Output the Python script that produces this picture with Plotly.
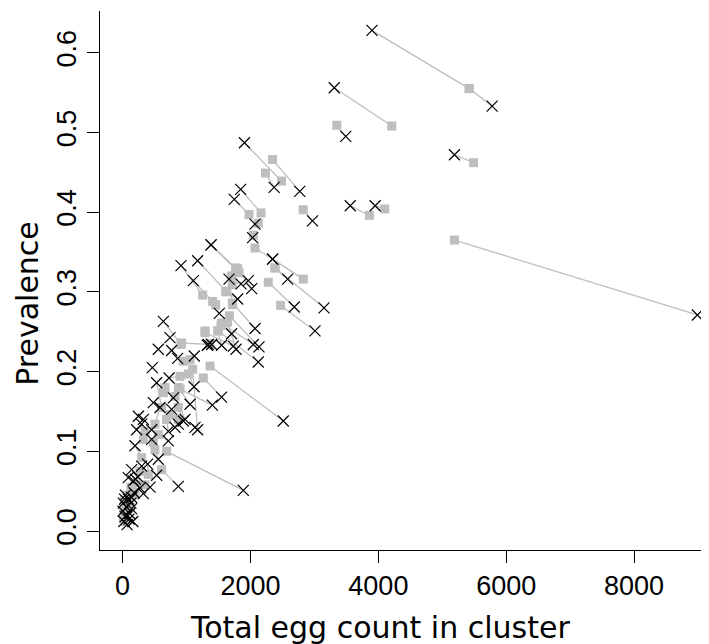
import numpy as np
import plotly.graph_objects as go

nan = np.nan

# Paired observations: grey square (one estimate) and black cross (other estimate) per cluster
sq_x = [5420, 5420, 4210, 3350, 5490, 5190, 3860, 4100, 2345, 2825, 2485, 2235,
        2165, 1977, 2122, 2044, 2071, 2826, 2384, 2384, 2279, 2471,
        1767, 1820, 1627, 1251, 1408, 1455, 1799, 1705, 1716, 1720, 1716, 1669,
        1548, 1497, 1289, 1367, 1289, 1539, 1486, 1611, 1640,
        913, 923, 1054, 949, nan, nan, nan, nan, 610, 898, 1028, 1262, 1367, 1095,
        871, 898, 663, 820, 871, 741, 871, 688, 637, 506, 558, 350, 480, 324,
        nan, nan, nan, 506, 688, 297, 272, 402, 219, 350, 194, 610,
        nan, nan, nan, nan, nan, nan, nan,
        20, 40, 30, 60, 15, 80, 50, 100, 10, 120, 70, 25, 150, nan, nan, nan, nan, 130]
sq_y = [0.555, 0.555, 0.508, 0.509, 0.462, 0.365, 0.396, 0.404, 0.466, 0.403, 0.439, 0.449,
        0.399, 0.397, 0.386, 0.371, 0.355, 0.316, 0.330, 0.330, 0.312, 0.283,
        0.330, 0.324, 0.300, 0.296, 0.288, 0.284, 0.329, 0.320, 0.309, 0.284, 0.286, 0.270,
        0.261, 0.251, 0.249, 0.235, 0.251, 0.258, 0.251, 0.301, 0.262,
        0.234, 0.236, 0.215, 0.213, nan, nan, nan, nan, 0.155, 0.194, 0.197, 0.192, 0.207, 0.203,
        0.180, 0.178, 0.180, 0.169, 0.155, 0.146, 0.140, 0.140, 0.1735, 0.134, 0.121, 0.125, 0.111, 0.115,
        nan, nan, nan, 0.102, 0.100, 0.092, 0.075, 0.071, 0.061, 0.058, 0.046, 0.077,
        nan, nan, nan, nan, nan, nan, nan,
        0.030, 0.025, 0.018, 0.035, 0.022, 0.028, 0.012, 0.040, 0.015, 0.030, 0.045, 0.038, 0.050,
        nan, nan, nan, nan, 0.055]
cr_x = [3900, 5780, 3310, 3490, 5190, 8990, 3560, 3950, 2770, 2970, 1905, 2370,
        1846, 1747, 2071, 2033, 2346, 2346, 3150, 2581, 2685, 3009,
        1383, 1383, 1173, 913, 1106, 1512, 2018, 1852, 1966, 1664, 2071, 2133,
        2044, 2122, 1731, 1392, 1325, 1705, 1548, 1799, 1774,
        637, 1340, 1121, 860, 766, 741, 558, 465, 532, 726, 1117, 1548, 2513, 1173,
        1054, 1403, 793, 976, 949, 766, 820, 715, 480, 585, 715, 454, 454, 297,
        324, 246, 219, 558, 1888, 194, 297, 391, 167, 429, 141, 871,
        532, 89, 272, 324, 141, 871, 1132,
        10, 60, 20, 90, 40, 110, 70, 130, 5, 160, 45, 30, 180, 60, 140, 100, 200, 240]
cr_y = [0.628, 0.533, 0.556, 0.495, 0.472, 0.271, 0.408, 0.408, 0.426, 0.389, 0.487, 0.431,
        0.4285, 0.416, 0.385, 0.368, 0.341, 0.341, 0.280, 0.316, 0.281, 0.251,
        0.359, 0.359, 0.339, 0.333, 0.314, 0.273, 0.304, 0.310, 0.314, 0.316, 0.254, 0.231,
        0.234, 0.212, 0.232, 0.234, 0.233, 0.2475, 0.233, 0.291, 0.228,
        0.263, 0.234, 0.2195, 0.2165, 0.2265, 0.2425, 0.228, 0.205, 0.186, 0.192, 0.181, 0.168, 0.138, 0.127,
        0.159, 0.158, 0.167, 0.140, 0.138, 0.1525, 0.130, 0.125, 0.161, 0.155, 0.113, 0.127, 0.115, 0.134,
        0.140, 0.144, 0.127, 0.090, 0.051, 0.107, 0.0815, 0.084, 0.063, 0.055, 0.042, 0.056,
        0.070, 0.067, 0.054, 0.047, 0.077, 0.134, 0.130,
        0.035, 0.030, 0.012, 0.040, 0.018, 0.022, 0.008, 0.035, 0.025, 0.012, 0.045, 0.040, 0.048,
        0.020, 0.028, 0.015, 0.065, 0.068]

x_ticks = [0, 2000, 4000, 6000, 8000]
y_ticks = [0.0, 0.1, 0.2, 0.3, 0.4, 0.5, 0.6]
y_tick_text = ["0.0", "0.1", "0.2", "0.3", "0.4", "0.5", "0.6"]

GREY = "rgb(190,190,190)"
FONT = "Liberation Sans"
TITLE_FONT = "DejaVu Sans"

# segments
seg_x, seg_y = [], []
for a, b, c, d in zip(sq_x, sq_y, cr_x, cr_y):
    if np.isnan(a):
        continue
    seg_x += [a, c, None]
    seg_y += [b, d, None]

fig = go.Figure()
fig.add_trace(go.Scatter(x=seg_x, y=seg_y, mode="lines",
                         line=dict(color=GREY, width=1.3), hoverinfo="skip", showlegend=False))
fig.add_trace(go.Scatter(x=sq_x, y=sq_y, mode="markers",
                         marker=dict(symbol="square", size=9, color=GREY, line=dict(width=0)),
                         showlegend=False))
fig.add_trace(go.Scatter(x=cr_x, y=cr_y, mode="markers",
                         marker=dict(symbol="x-thin", size=11, color="black",
                                     line=dict(width=1.2, color="black")),
                         showlegend=False))

fig.update_layout(
    width=709, height=644,
    margin=dict(l=92, r=3, t=3, b=102, autoexpand=False),
    paper_bgcolor="white", plot_bgcolor="white",
    font=dict(family=FONT, color="black", size=27),
    xaxis=dict(range=[-354, 9250], tickvals=x_ticks, ticks="outside", ticklen=12,
               tickwidth=1, tickcolor="black", showline=True, linecolor="black", linewidth=1,
               showgrid=False, zeroline=False, automargin=False,
               tickfont=dict(size=27, family=FONT)),
    yaxis=dict(range=[-0.0238, 0.6523], tickvals=y_ticks, ticktext=y_tick_text,
               ticks="outside", ticklen=12, tickwidth=1, tickcolor="black",
               showline=True, linecolor="black", linewidth=1, showgrid=False, zeroline=False,
               automargin=False, tickangle=-90, tickfont=dict(size=27, family=FONT)),
    annotations=[
        dict(text="Total egg count in cluster", xref="paper", yref="paper",
             x=(372 - 92) / 614, y=-0.143, xanchor="center", yanchor="middle", showarrow=False,
             font=dict(size=30, family=TITLE_FONT)),
        dict(text="Prevalence", xref="paper", yref="paper",
             x=-0.1173, y=0.4586, xanchor="center", yanchor="middle", textangle=-90,
             showarrow=False, font=dict(size=30, family=TITLE_FONT)),
    ],
)

fig.write_html("out.html")
